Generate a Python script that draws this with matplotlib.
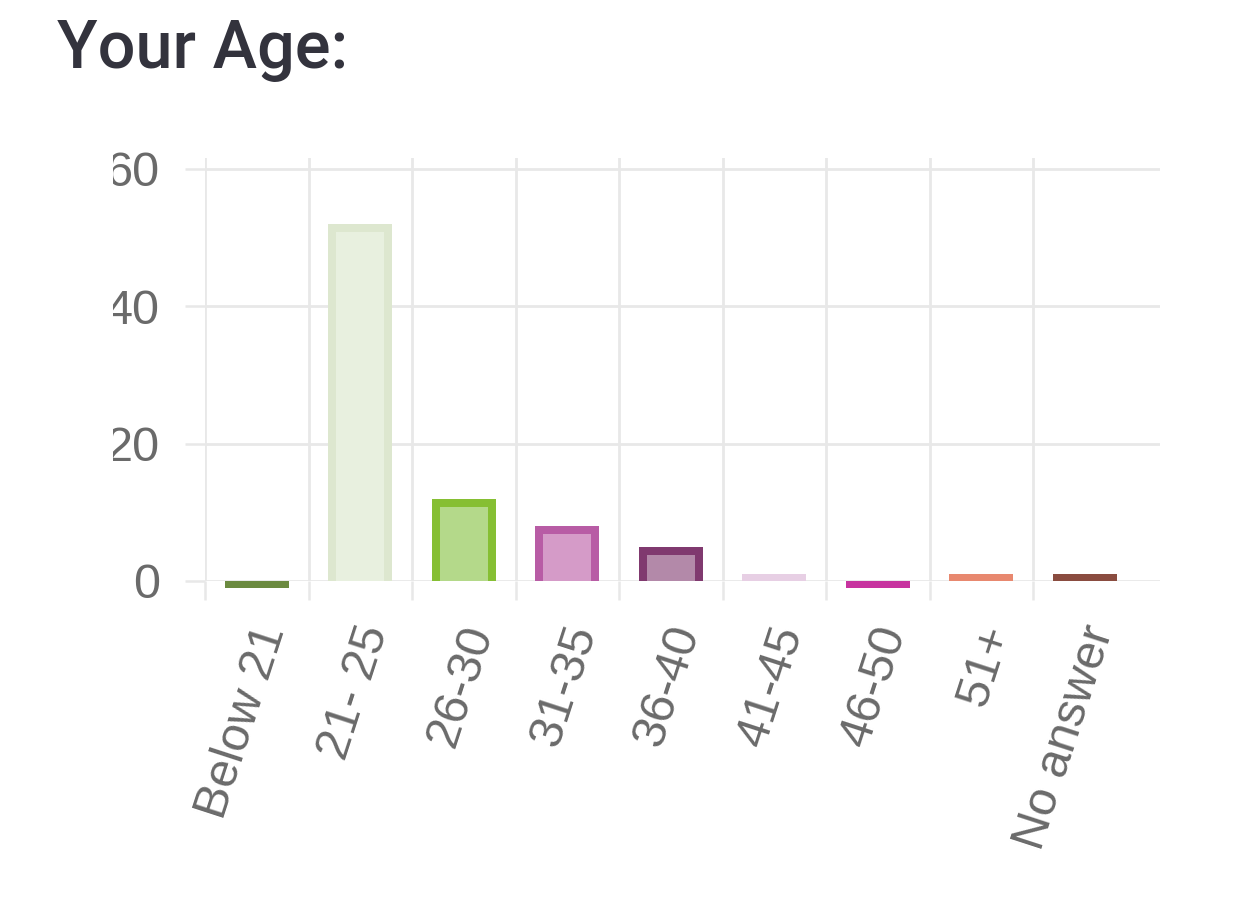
import numpy as np
import matplotlib
matplotlib.use("Agg")
import matplotlib.pyplot as plt
from matplotlib.transforms import Bbox, TransformedBbox, ScaledTranslation

categories = ["Below 21", "21- 25", "26-30", "31-35", "36-40", "41-45", "46-50", "51+", "No answer"]
values = [0, 52, 12, 8, 5, 1, 0, 1, 1]
edge_colors = ["#6b8a40", "#dde7cf", "#86bf33", "#b85ca5", "#80396f", "#e7cfe4", "#c7339f", "#e8886f", "#8a4c40"]
fill_colors = ["#6b8a40", "#e8f0df", "#b4d98a", "#d59bc8", "#b389a9", "#e7cfe4", "#c7339f", "#e8886f", "#8a4c40"]
y_ticks = [0, 20, 40, 60]

W, H = 1247, 906
fig = plt.figure(figsize=(W / 100, H / 100), dpi=100)
left_px, right_px, top_px, base_px = 205, 1160, 158, 581
ax = fig.add_axes([left_px / W, (H - base_px) / H, (right_px - left_px) / W, (base_px - top_px) / H])

n = len(categories)
x = np.arange(n)
xlim = (-0.5, 8.727)
ylim = (0, 61.6)
ax.set_xlim(*xlim)
ax.set_ylim(*ylim)

px_per_x = (right_px - left_px) / (xlim[1] - xlim[0])
px_per_y = (base_px - top_px) / (ylim[1] - ylim[0])
bar_w = 64 / px_per_x
inset_x = 8 / px_per_x
inset_y = 8 / px_per_y
zero_stub = 1.0

grid_c = "#e8e8e8"
for xi, v, ec, fc in zip(x, values, edge_colors, fill_colors):
    if v == 0:
        ax.bar(xi, -zero_stub, width=bar_w, color=ec, clip_on=False, zorder=3)
    else:
        ax.bar(xi, v, width=bar_w, color=ec, zorder=3)
        if v > inset_y:
            ax.bar(xi, v - inset_y, width=bar_w - 2 * inset_x, color=fc, zorder=4)

for s in ax.spines.values():
    s.set_visible(False)

ax.set_yticks(y_ticks)
ax.set_yticklabels([str(t) for t in y_ticks])
ax.tick_params(axis="y", length=14.4, width=1.8, color=grid_c, pad=18,
               labelsize=35, labelcolor="#6a6a6a")
ax.set_xticks(x)
ax.set_xticks(np.arange(-0.5, n - 1, 1.0), minor=True)
ax.tick_params(axis="x", which="major", length=0, pad=33, labelsize=35, labelcolor="#6a6a6a")
ax.tick_params(axis="x", which="minor", length=14, width=1.8, color=grid_c)
ax.grid(True, axis="y", which="major", color=grid_c, linewidth=2.0, zorder=0)
ax.grid(True, axis="x", which="minor", color=grid_c, linewidth=2.0, zorder=0)
ax.set_axisbelow(True)

ax.set_xticklabels(categories, rotation=72, ha="right", va="center",
                   rotation_mode="anchor", family=["Liberation Sans", "DejaVu Sans"])
off = ScaledTranslation(16 / 100, 0, fig.dpi_scale_trans)
for lab in ax.get_xticklabels():
    lab.set_transform(lab.get_transform() + off)

clip = TransformedBbox(Bbox([[113 / W, 0], [1, 1]]), fig.transFigure)
for lab in ax.get_yticklabels():
    lab.set_family(["Liberation Sans", "DejaVu Sans"])
    lab.set_clip_box(clip)
    lab.set_clip_on(True)

fig.text(57 / W, 1 - 68 / H, "Your Age:", fontsize=48, fontweight="medium",
         family=["Roboto", "DejaVu Sans"], color="#33333d", ha="left", va="baseline")

fig.savefig("out.png", dpi=100, facecolor="white")
